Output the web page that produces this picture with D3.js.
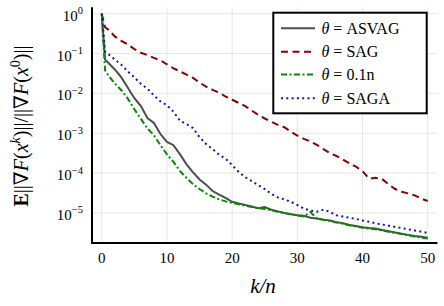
<!DOCTYPE html>
<html>
<head>
<meta charset="utf-8">
<script src="https://cdn.jsdelivr.net/npm/d3@7"></script>
<style>
  html, body { margin: 0; padding: 0; background: #fff; }
  svg { display: block; }
  text { font-family: "Liberation Serif", "DejaVu Serif", serif; fill: #000; }
</style>
</head>
<body>
<div id="chart"></div>
<script>
// epochs k/n
var epochs = [0, 0.5].concat(d3.range(1, 51));

// log10 of relative gradient norm
var asvag = [0, -1.15, -1.23, -1.40, -1.60, -1.86, -2.12, -2.32, -2.62, -2.74, -3.02,
  -3.22, -3.30, -3.53, -3.78, -3.98, -4.16, -4.29, -4.45, -4.54, -4.62,
  -4.72, -4.76, -4.80, -4.84, -4.88, -4.85, -4.92, -4.96, -5.00, -5.03,
  -5.06, -5.07, -5.12, -5.14, -5.17, -5.19, -5.23, -5.26, -5.30, -5.33,
  -5.36, -5.38, -5.39, -5.43, -5.46, -5.49, -5.52, -5.55, -5.58, -5.60, -5.62];

var sag = [0, -0.34, -0.40, -0.57, -0.68, -0.77, -0.89, -0.98, -1.04, -1.11, -1.17,
  -1.27, -1.37, -1.45, -1.53, -1.61, -1.73, -1.83, -1.91, -1.98, -2.08,
  -2.16, -2.24, -2.32, -2.43, -2.54, -2.63, -2.71, -2.79, -2.85, -2.96,
  -3.06, -3.14, -3.21, -3.29, -3.40, -3.50, -3.57, -3.66, -3.76, -3.84,
  -3.95, -4.14, -4.12, -4.15, -4.28, -4.40, -4.47, -4.51, -4.56, -4.64, -4.70];

var theta01 = [0, -1.42, -1.55, -1.75, -1.92, -2.13, -2.40, -2.64, -2.88, -3.05, -3.30,
  -3.53, -3.72, -3.95, -4.12, -4.28, -4.40, -4.51, -4.59, -4.66, -4.71,
  -4.75, -4.78, -4.82, -4.85, -4.88, -4.90, -4.93, -4.97, -5.00, -5.03,
  -5.06, -5.09, -4.98, -5.14, -5.17, -5.20, -5.24, -5.27, -5.31, -5.34,
  -5.37, -5.39, -5.41, -5.44, -5.47, -5.50, -5.53, -5.56, -5.59, -5.62, -5.64];

var saga = [0, -0.95, -1.01, -1.15, -1.28, -1.45, -1.60, -1.76, -1.88, -2.05, -2.20,
  -2.30, -2.46, -2.69, -2.77, -2.87, -3.10, -3.27, -3.40, -3.54, -3.64,
  -3.80, -3.97, -4.10, -4.20, -4.30, -4.40, -4.52, -4.61, -4.66, -4.72,
  -4.80, -4.89, -4.94, -4.97, -4.92, -4.97, -5.06, -5.09, -5.12, -5.15,
  -5.19, -5.22, -5.26, -5.29, -5.32, -5.35, -5.38, -5.41, -5.44, -5.47, -5.50];

var seriesNames = ["ASVAG", "SAG", "0.1n", "SAGA"];
var xTicks = [0, 10, 20, 30, 40, 50];
var yTickExps = [0, -1, -2, -3, -4, -5];

var series = [
  {name: seriesNames[0], vals: asvag,   color: "#4d4d4d", dash: null},
  {name: seriesNames[1], vals: sag,     color: "#8b0000", dash: "7,4.5"},
  {name: seriesNames[2], vals: theta01, color: "#008b00", dash: "6,2.5,2,2.5"},
  {name: seriesNames[3], vals: saga,    color: "#1414b4", dash: "2,3.3"}
];

var W = 444, H = 306;
var plotL = 92, plotR = 437.5, plotT = 7.3, plotB = 243;

var svg = d3.select("#chart").append("svg")
  .attr("width", W).attr("height", H);

var x = d3.scaleLinear().domain([-1.5, 51.5]).range([plotL, plotR]);
var y = d3.scaleLog().domain([Math.pow(10, -5.754), Math.pow(10, 0.16)]).range([plotB, plotT]);

// grid
svg.append("g").selectAll("line").data(xTicks).enter().append("line")
  .attr("x1", function(d) { return x(d); }).attr("x2", function(d) { return x(d); })
  .attr("y1", plotT).attr("y2", plotB)
  .style("stroke", "#e6e6e6").style("stroke-width", 1);

svg.append("g").selectAll("line").data(yTickExps).enter().append("line")
  .attr("x1", plotL).attr("x2", plotR)
  .attr("y1", function(d) { return y(Math.pow(10, d)); })
  .attr("y2", function(d) { return y(Math.pow(10, d)); })
  .style("stroke", "#e6e6e6").style("stroke-width", 1);

// curves
var line = d3.line()
  .x(function(d) { return x(d[0]); })
  .y(function(d) { return y(Math.pow(10, d[1])); });

series.forEach(function(s) {
  svg.append("path")
    .attr("d", line(d3.zip(epochs, s.vals)))
    .style("fill", "none")
    .style("stroke", s.color)
    .style("stroke-width", 2)
    .style("stroke-dasharray", s.dash);
});

// axes lines (left + bottom only)
svg.append("line").attr("x1", plotL).attr("x2", plotL).attr("y1", plotT).attr("y2", plotB + 1)
  .style("stroke", "#000").style("stroke-width", 2);
svg.append("line").attr("x1", plotL - 1).attr("x2", plotR).attr("y1", plotB).attr("y2", plotB)
  .style("stroke", "#000").style("stroke-width", 2);

// x tick labels
svg.append("g").selectAll("text").data(xTicks).enter().append("text")
  .attr("x", function(d) { return x(d); })
  .attr("y", 262.5)
  .attr("text-anchor", "middle")
  .style("font-size", "15px")
  .text(function(d) { return d; });

// y tick labels 10^k
var yl = svg.append("g").selectAll("text").data(yTickExps).enter().append("text")
  .attr("x", 83)
  .attr("y", function(d) { return y(Math.pow(10, d)) + 7; })
  .attr("text-anchor", "end")
  .style("font-size", "15px");
yl.append("tspan").text("10");
yl.append("tspan")
  .attr("dy", -6.5)
  .style("font-size", "10.5px")
  .text(function(d) { return d === 0 ? "0" : "\u2212" + (-d); });

// axis titles
svg.append("text")
  .attr("x", 263).attr("y", 293)
  .attr("text-anchor", "middle")
  .style("font-size", "21px").style("font-style", "italic")
  .text("k/n");

var ylab = svg.append("text")
  .attr("transform", "translate(28," + 126 + ") rotate(-90)")
  .attr("text-anchor", "middle")
  .style("font-size", "20px");
ylab.append("tspan").style("font-weight", "bold").text("E");
ylab.append("tspan").text("||\u2207");
ylab.append("tspan").style("font-style", "italic").text("F");
ylab.append("tspan").text("(");
ylab.append("tspan").style("font-style", "italic").text("x");
ylab.append("tspan").attr("dy", -8).style("font-size", "14px").style("font-style", "italic").text("k");
ylab.append("tspan").attr("dy", 8).text(")||/||\u2207");
ylab.append("tspan").style("font-style", "italic").text("F");
ylab.append("tspan").text("(");
ylab.append("tspan").style("font-style", "italic").text("x");
ylab.append("tspan").attr("dy", -8).style("font-size", "14px").text("0");
ylab.append("tspan").attr("dy", 8).text(")||");

// legend
var lg = svg.append("g");
lg.append("rect")
  .attr("x", 273.3).attr("y", 12.7).attr("width", 153.4).attr("height", 100.6)
  .style("fill", "#fff").style("stroke", "#000").style("stroke-width", 2);

var rowY = [28.3, 51.7, 74.5, 98.3];
series.forEach(function(s, i) {
  lg.append("line")
    .attr("x1", 281).attr("x2", 315)
    .attr("y1", rowY[i]).attr("y2", rowY[i])
    .style("stroke", s.color).style("stroke-width", 2)
    .style("stroke-dasharray", s.dash);
  var t = lg.append("text")
    .attr("x", 321.5).attr("y", rowY[i] + 5.5)
    .style("font-size", "16px");
  t.append("tspan").style("font-style", "italic").text("\u03b8");
  t.append("tspan").text(" = " + s.name);
});
</script>
</body>
</html>
